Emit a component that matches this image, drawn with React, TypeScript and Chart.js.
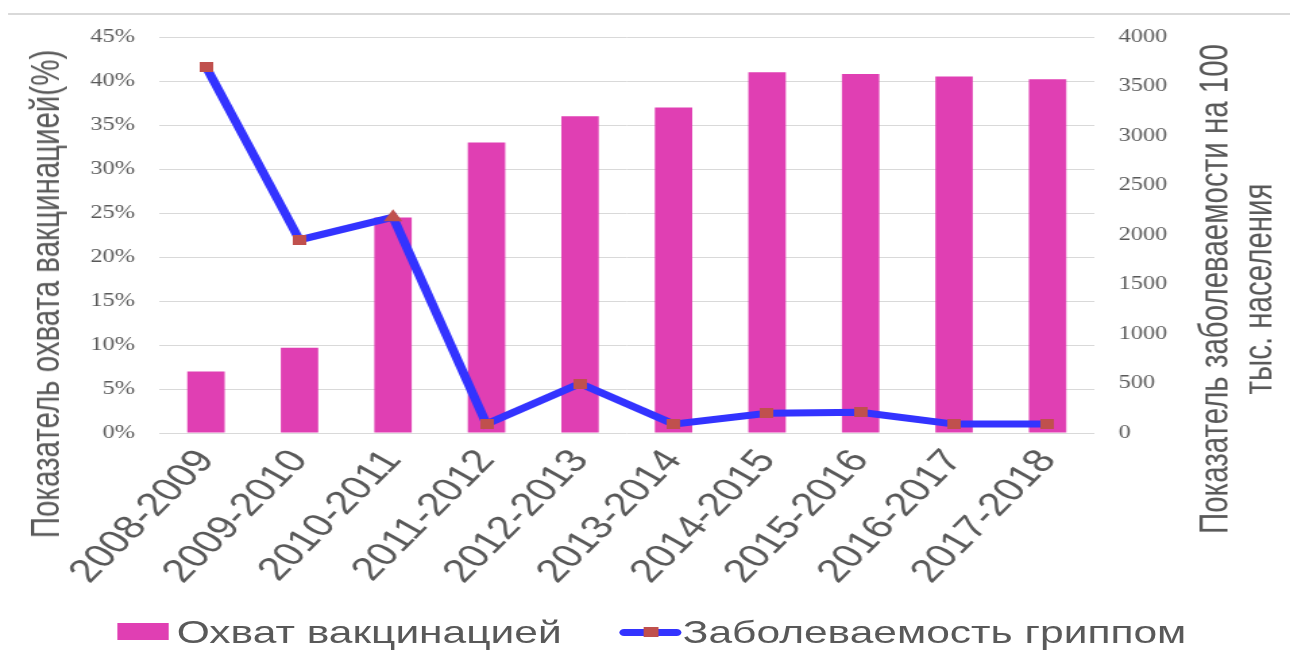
import React, { useEffect, useRef } from 'react';
import { Chart, registerables } from 'chart.js';

Chart.register(...registerables);

// ---- data ----
const categories = [
  '2008-2009', '2009-2010', '2010-2011', '2011-2012', '2012-2013',
  '2013-2014', '2014-2015', '2015-2016', '2016-2017', '2017-2018',
];
const coverage = [7, 9.7, 24.5, 33, 36, 37, 41, 40.8, 40.5, 40.2];
const incidence = [3700, 1950, 2180, 90, 500, 90, 200, 210, 90, 90];
const leftTickStep = 5;
const leftMax = 45;
const rightTickStep = 500;
const rightMax = 4000;

const BAR_LABEL = 'Охват вакцинацией';
const LINE_LABEL = 'Заболеваемость гриппом';
const LEFT_TITLE = 'Показатель охвата вакцинацией(%)';
const RIGHT_TITLE_1 = 'Показатель заболеваемости на 100';
const RIGHT_TITLE_2 = 'тыс. населения';

// ---- style ----
const BAR_COLOR = '#E03FB3';
const LINE_COLOR = '#3333FF';
const MARKER_COLOR = '#C0504D';
const TEXT_COLOR = '#595959';
const GRID_COLOR = '#D9D9D9';

const W = 956;
const H = 655;
const SX = 1290 / W;

export default function App() {
  const ref = useRef<HTMLCanvasElement>(null);

  useEffect(() => {
    const canvas = ref.current!;
    const sq = document.createElement('canvas');
    sq.width = 10;
    sq.height = 10;
    const c = sq.getContext('2d')!;
    c.fillStyle = MARKER_COLOR;
    c.fillRect(0, 0, 10, 10);

    const chart = new Chart(canvas, {
      type: 'bar',
      data: {
        labels: categories,
        datasets: [
          {
            type: 'line',
            label: LINE_LABEL,
            data: incidence,
            yAxisID: 'y1',
            borderColor: LINE_COLOR,
            borderWidth: 7,
            tension: 0,
            pointStyle: incidence.map((_, i) => (i === 2 ? 'triangle' : sq)) as any,
            pointRadius: incidence.map((_, i) => (i === 2 ? 8 : 5)),
            pointBackgroundColor: MARKER_COLOR,
            pointBorderWidth: 0,
            order: 0,
          } as any,
          {
            type: 'bar',
            label: BAR_LABEL,
            data: coverage,
            yAxisID: 'y',
            backgroundColor: BAR_COLOR,
            barPercentage: 1,
            categoryPercentage: 0.4,
            order: 1,
          },
        ],
      },
      options: {
        responsive: false,
        animation: false,
        devicePixelRatio: 1,
        layout: { padding: { top: 37, left: 0, right: 0, bottom: 0 } },
        plugins: { legend: { display: false }, tooltip: { enabled: false } },
        scales: {
          x: {
            grid: { display: false, drawTicks: false },
            border: { display: false },
            ticks: {
              minRotation: 53,
              maxRotation: 53,
              autoSkip: false,
              padding: 10,
              color: TEXT_COLOR,
              font: { family: 'Liberation Sans', size: 32.5 },
            },
            afterFit: (s: any) => { s.height = 222; },
          },
          y: {
            position: 'left',
            min: 0,
            max: leftMax,
            ticks: {
              stepSize: leftTickStep,
              padding: 18,
              color: TEXT_COLOR,
              font: { family: 'Liberation Serif', size: 18 },
              callback: (v: any) => `${v}%`,
            },
            grid: { color: GRID_COLOR, drawTicks: false, lineWidth: 1 },
            border: { display: false },
            afterFit: (s: any) => { s.width = 118; },
          },
          y1: {
            position: 'right',
            min: 0,
            max: rightMax,
            ticks: {
              stepSize: rightTickStep,
              padding: 18,
              color: TEXT_COLOR,
              font: { family: 'Liberation Serif', size: 18 },
              callback: (v: any) => `${v}`,
            },
            grid: { display: false, drawTicks: false },
            border: { display: false },
            afterFit: (s: any) => { s.width = 145; },
          },
        },
      },
    });
    return () => chart.destroy();
  }, []);

  const textBase: React.CSSProperties = {
    position: 'absolute',
    fontFamily: 'Liberation Sans',
    color: TEXT_COLOR,
    whiteSpace: 'nowrap',
  };

  return (
    <div
      style={{
        position: 'absolute',
        left: 0,
        top: 0,
        width: W,
        height: H,
        transform: `scaleX(${SX})`,
        transformOrigin: '0 0',
        background: '#fff',
        overflow: 'hidden',
      }}
    >
      <div style={{ position: 'absolute', left: 6, right: 0, top: 13, height: 2, background: GRID_COLOR }} />
      <canvas
        ref={ref}
        width={W}
        height={H}
        style={{ position: 'absolute', left: 0, top: 0, width: W, height: H }}
      />
      <div
        style={{
          ...textBase,
          left: 33.5,
          top: 294,
          fontSize: 29.5,
          lineHeight: '32px',
          transform: 'translate(-50%, -50%) rotate(-90deg)',
        }}
      >
        {LEFT_TITLE}
      </div>
      <div
        style={{
          ...textBase,
          left: 916,
          top: 289,
          fontSize: 29.5,
          lineHeight: '32px',
          textAlign: 'center',
          transform: 'translate(-50%, -50%) rotate(-90deg)',
        }}
      >
        {RIGHT_TITLE_1}
        <br />
        {RIGHT_TITLE_2}
      </div>
      {/* legend */}
      <div style={{ position: 'absolute', left: 87, top: 623, width: 38, height: 17, background: BAR_COLOR }} />
      <div style={{ ...textBase, left: 131, top: 615, fontSize: 31.5, lineHeight: '34px' }}>{BAR_LABEL}</div>
      <div
        style={{
          position: 'absolute',
          left: 459,
          top: 628.5,
          width: 46,
          height: 7,
          borderRadius: 3.5,
          background: LINE_COLOR,
        }}
      />
      <div style={{ position: 'absolute', left: 477, top: 627, width: 10.5, height: 10, background: MARKER_COLOR }} />
      <div style={{ ...textBase, left: 506, top: 615, fontSize: 31.5, lineHeight: '34px' }}>{LINE_LABEL}</div>
    </div>
  );
}
